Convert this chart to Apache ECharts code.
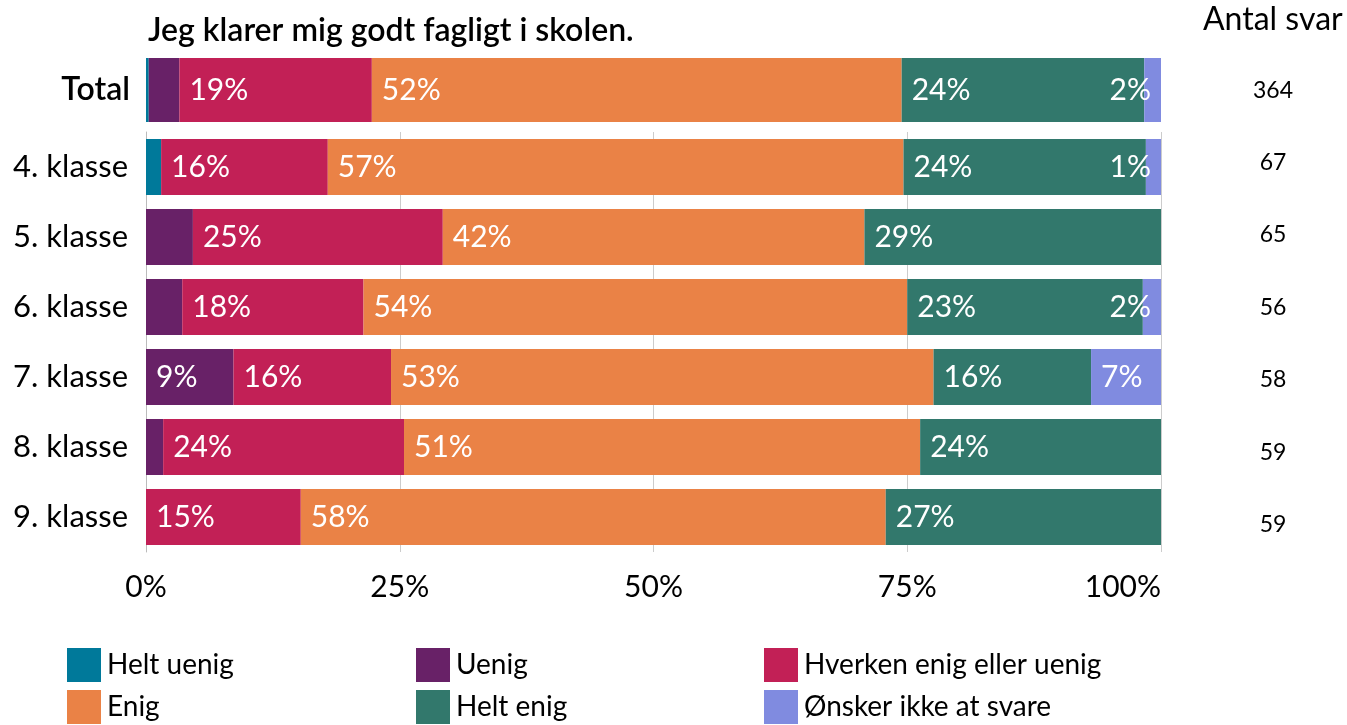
<!DOCTYPE html>
<html>
<head>
<meta charset="utf-8">
<script src="https://cdn.jsdelivr.net/npm/echarts@6/dist/echarts.min.js"></script>
<style>
  html, body { margin: 0; padding: 0; background: #ffffff; }
  #chart { width: 1347px; height: 725px; }
</style>
</head>
<body>
<div id="chart"></div>
<script>
// Rows: the overall total first, then one row per grade
const categories = ['Total', '4. klasse', '5. klasse', '6. klasse', '7. klasse', '8. klasse', '9. klasse'];
const antalSvar = ['364', '67', '65', '56', '58', '59', '59'];

// Answer shares in percent, one array per answer option, same order as categories
const heltUenig = [0.27, 1.49, 0, 0, 0, 0, 0];
const uenig = [3.02, 0, 4.62, 3.57, 8.62, 1.69, 0];
const hverken = [18.96, 16.42, 24.62, 17.86, 15.52, 23.73, 15.25];
const enig = [52.20, 56.72, 41.54, 53.57, 53.45, 50.85, 57.63];
const heltEnig = [23.90, 23.88, 29.23, 23.21, 15.52, 23.73, 27.12];
const oensker = [1.65, 1.49, 0, 1.79, 6.90, 0, 0];

const xTicks = [0, 25, 50, 75, 100];

const answers = [
  { name: 'Helt uenig', values: heltUenig, color: '#00799A' },
  { name: 'Uenig', values: uenig, color: '#682167' },
  { name: 'Hverken enig eller uenig', values: hverken, color: '#C22056' },
  { name: 'Enig', values: enig, color: '#EA8246' },
  { name: 'Helt enig', values: heltEnig, color: '#32786C' },
  { name: 'Ønsker ikke at svare', values: oensker, color: '#808BE0' }
];

// Legend grid: three columns, two rows
const legendSlots = [
  { name: 'Helt uenig', left: 67, top: 648 },
  { name: 'Uenig', left: 416, top: 648 },
  { name: 'Hverken enig eller uenig', left: 764, top: 648 },
  { name: 'Enig', left: 67, top: 690 },
  { name: 'Helt enig', left: 416, top: 690 },
  { name: 'Ønsker ikke at svare', left: 764, top: 690 }
];

const FONT = 'Lato, "Noto Sans", sans-serif';

// Small shares get no label, except the "no answer" share which is pushed to the right edge
function dataItem(v, isLast) {
  const show = v > 0 && (v >= 5 || isLast);
  return {
    value: v,
    label: {
      show: show,
      position: (isLast && v < 5) ? 'insideRight' : 'insideLeft',
      distance: 10
    }
  };
}

const series = [];
answers.forEach((a, i) => {
  const isLast = i === answers.length - 1;
  const common = {
    name: a.name,
    type: 'bar',
    itemStyle: { color: a.color },
    label: {
      color: '#ffffff',
      fontFamily: FONT,
      fontSize: 30,
      formatter: p => Math.round(p.value) + '%'
    },
    emphasis: { disabled: true },
    animation: false
  };
  series.push(Object.assign({}, common, {
    xAxisIndex: 0, yAxisIndex: 0,
    stack: 'total',
    barWidth: 64,
    data: [dataItem(a.values[0], isLast)]
  }));
  series.push(Object.assign({}, common, {
    xAxisIndex: 1, yAxisIndex: 1,
    stack: 'grades',
    barCategoryGap: '20%',
    data: a.values.slice(1).map(v => dataItem(v, isLast))
  }));
});

const legends = legendSlots.map(s => ({
  left: s.left,
  top: s.top,
  padding: 0,
  itemWidth: 34,
  itemHeight: 34,
  icon: 'rect',
  selectedMode: false,
  data: [s.name],
  textStyle: { fontFamily: FONT, fontSize: 28, color: '#000000', padding: [0, 0, 0, 1] }
}));

const option = {
  backgroundColor: '#ffffff',
  animation: false,
  title: [
    {
      text: 'Jeg klarer mig godt fagligt i skolen.',
      left: 148, top: 15, padding: 0,
      textStyle: { fontFamily: FONT, fontSize: 32, fontWeight: 600, color: '#000000' }
    },
    {
      text: 'Antal svar',
      left: 1203, top: 4, padding: 0,
      textStyle: { fontFamily: FONT, fontSize: 32, fontWeight: 'normal', color: '#000000' }
    }
  ],
  legend: legends,
  grid: [
    { left: 146, right: 186, top: 50, height: 80 },
    { left: 146, right: 186, top: 132, height: 420 },
    { left: 1273, width: 10, top: 54, height: 507 }
  ],
  xAxis: [
    { gridIndex: 0, type: 'value', min: 0, max: 100, show: false },
    {
      gridIndex: 1, type: 'value', min: xTicks[0], max: xTicks[xTicks.length - 1], interval: 25,
      axisLine: { show: false }, axisTick: { show: false },
      splitLine: { show: true, lineStyle: { color: '#CCCCCC', width: 1 } },
      axisLabel: {
        fontFamily: FONT, fontSize: 30, color: '#000000', margin: 20,
        alignMaxLabel: 'right', formatter: '{value}%'
      }
    },
    { gridIndex: 2, type: 'value', min: 0, max: 1, show: false }
  ],
  yAxis: [
    {
      gridIndex: 0, type: 'category', data: categories.slice(0, 1),
      axisLine: { show: false }, axisTick: { show: false },
      axisLabel: { fontFamily: FONT, fontSize: 32, fontWeight: 600, color: '#000000', margin: 16 }
    },
    {
      gridIndex: 1, type: 'category', inverse: true, data: categories.slice(1),
      axisLine: { show: true, lineStyle: { color: '#BBBBBB', width: 1 } },
      axisTick: { show: false },
      axisLabel: { fontFamily: FONT, fontSize: 31, color: '#000000', margin: 18 }
    },
    {
      gridIndex: 2, type: 'category', inverse: true, data: antalSvar,
      axisLine: { show: false }, axisTick: { show: false },
      axisLabel: { fontFamily: FONT, fontSize: 23, color: '#000000', margin: 0, align: 'center' }
    }
  ],
  series: series
};

const chart = echarts.init(document.getElementById('chart'), null, { renderer: 'canvas' });
chart.setOption(option);
</script>
</body>
</html>
